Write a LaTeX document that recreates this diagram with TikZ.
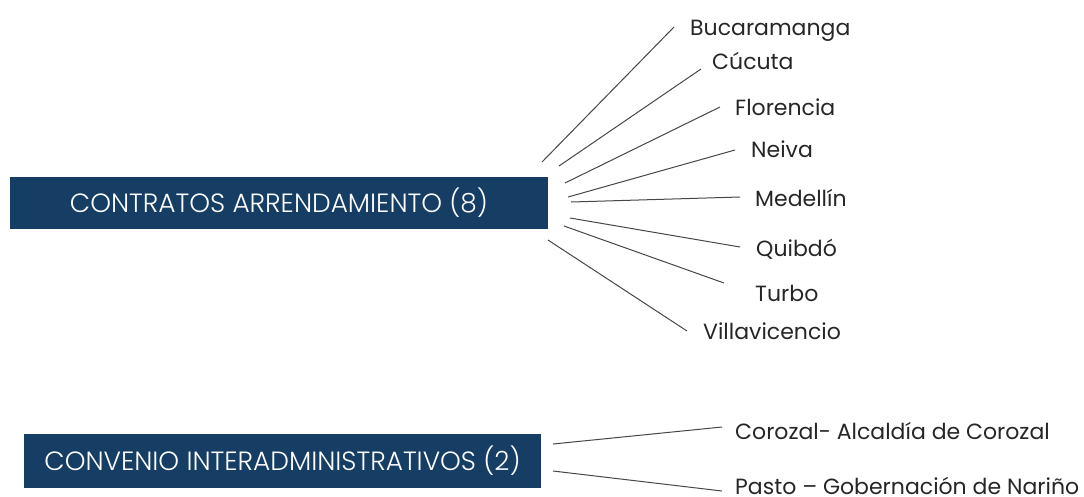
\documentclass[tikz,border=0pt]{standalone}
\usepackage{fontspec}
\setmainfont{Poppins}
\newfontfamily\boxfont{Poppins Light}
\definecolor{navy}{RGB}{22,61,100}
\definecolor{linegray}{RGB}{70,70,75}
\begin{document}
\begin{tikzpicture}[x=1pt,y=-1pt,
  catbox/.style={fill=navy,draw=none,inner sep=0pt,text=white,font=\boxfont\fontsize{26.4}{29}\selectfont},
  city/.style={anchor=base west,inner sep=0pt,font=\fontsize{22}{26}\selectfont,text=black!85},
  conn/.style={draw=linegray,line width=1pt}]
\useasboundingbox (0,0) rectangle (1084,496);
% boxes
\node[catbox,minimum width=538pt,minimum height=52pt] (b1) at (279,203) {CONTRATOS ARRENDAMIENTO (8)};
\node[catbox,minimum width=517pt,minimum height=54pt] (b2) at (282.5,461) {CONVENIO INTERADMINISTRATIVOS (2)};
% labels
\node[city] (l1) at (690,35) {Bucaramanga};
\node[city] (l2) at (712,69) {Cúcuta};
\node[city] (l3) at (735,115) {Florencia};
\node[city] (l4) at (751,157) {Neiva};
\node[city] (l5) at (755,206) {Medellín};
\node[city] (l6) at (756,256) {Quibdó};
\node[city] (l7) at (755,301) {Turbo};
\node[city] (l8) at (703,339) {Villavicencio};
\node[city] (m1) at (735,439) {Corozal- Alcaldía de Corozal};
\node[city] (m2) at (735,494) {Pasto – Gobernación de Nariño};
% connector endpoints
\coordinate (s1) at (542,162); \coordinate (e1) at (674,27);
\coordinate (s2) at (559,166); \coordinate (e2) at (701,69);
\coordinate (s3) at (565,183); \coordinate (e3) at (720,107);
\coordinate (s4) at (568,197); \coordinate (e4) at (735,150);
\coordinate (s5) at (571,202); \coordinate (e5) at (740,197);
\coordinate (s6) at (570,218); \coordinate (e6) at (740,247);
\coordinate (s7) at (564,226); \coordinate (e7) at (724,283);
\coordinate (s8) at (548,240); \coordinate (e8) at (687,331);
\coordinate (t1) at (553,444); \coordinate (f1) at (722,427);
\coordinate (t2) at (553,471); \coordinate (f2) at (722,491);
\foreach \i in {1,...,8} {\draw[conn] (s\i) -- (e\i);}
\foreach \i in {1,2} {\draw[conn] (t\i) -- (f\i);}
\end{tikzpicture}
\end{document}
